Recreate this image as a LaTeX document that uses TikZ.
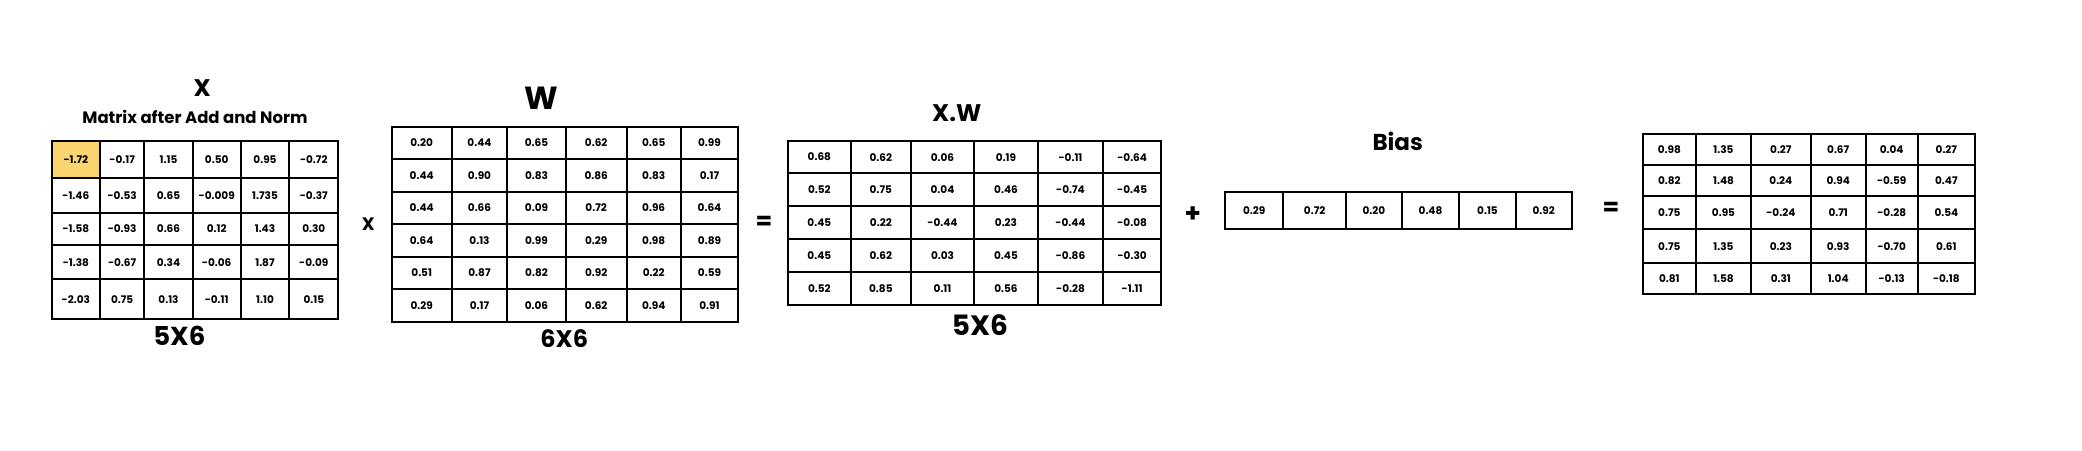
\documentclass[tikz,border=0pt]{standalone}
\usepackage{fontspec}
\setmainfont{Poppins}
\usetikzlibrary{backgrounds}
\definecolor{hl}{RGB}{250,212,110}
\tikzset{
  cell/.style={draw=black, line width=2.2pt, rectangle, inner sep=0pt, font=\fontsize{10.5}{12}\selectfont\bfseries},
  ttl/.style={font=\bfseries, inner sep=0pt},
  op/.style={font=\fontsize{18}{20}\selectfont\bfseries, inner sep=0pt}
}
\newcommand\cellgrid[4]{%
  \foreach \rowvals [count=\r] in {#4} {
    \foreach \v [count=\c] in \rowvals {
      \pgfmathsetmacro\xa{#2[\c-1]}
      \pgfmathsetmacro\xb{#2[\c]}
      \pgfmathsetmacro\ya{#3[\r-1]}
      \pgfmathsetmacro\yb{#3[\r]}
      \pgfmathsetmacro\ww{\xb-\xa}
      \pgfmathsetmacro\hh{\yb-\ya}
      \pgfmathsetmacro\cx{(\xa+\xb)/2}
      \pgfmathsetmacro\cy{(\ya+\yb)/2}
      \node[cell, minimum width=\ww pt, minimum height=\hh pt] (#1-\r-\c) at (\cx,\cy) {\v};
    }
  }%
}
\begin{document}
\begin{tikzpicture}[x=1pt,y=-1pt]
\useasboundingbox (0,0) rectangle (2082,450);

% X matrix
\cellgrid{x}{{51.7,100,144.3,192.7,240.7,289.3,338.3}}{{140.7,178.3,212.7,245.3,279.3,319.3}}{
{-1.72,-0.17,1.15,0.50,0.95,-0.72},
{-1.46,-0.53,0.65,-0.009,1.735,-0.37},
{-1.58,-0.93,0.66,0.12,1.43,0.30},
{-1.38,-0.67,0.34,-0.06,1.87,-0.09},
{-2.03,0.75,0.13,-0.11,1.10,0.15}}
\begin{scope}[on background layer]
\fill[white] (0,0) rectangle (2082,450);
\fill[hl] (x-1-1.north west) rectangle (x-1-1.south east);
\end{scope}
\node[ttl, font=\fontsize{24}{26}\selectfont\bfseries] (xt) at (202.3,88.3) {X};
\node[ttl, font=\fontsize{16.5}{18}\selectfont\bfseries] (xsub) at (195,117.3) {Matrix after Add and Norm};
\node[ttl, font=\fontsize{26}{28}\selectfont\bfseries] (xdim) at (179.3,336) {5X6};
\node[op] (times) at (368.3,224) {X};

% W matrix
\cellgrid{w}{{391.7,451.7,507.3,565.7,626.7,680.7,738.3}}{{126.7,159.3,191.7,224.3,256.7,289.3,321.7}}{
{0.20,0.44,0.65,0.62,0.65,0.99},
{0.44,0.90,0.83,0.86,0.83,0.17},
{0.44,0.66,0.09,0.72,0.96,0.64},
{0.64,0.13,0.99,0.29,0.98,0.89},
{0.51,0.87,0.82,0.92,0.22,0.59},
{0.29,0.17,0.06,0.62,0.94,0.91}}
\node[ttl, font=\fontsize{32}{34}\selectfont\bfseries] (wt) at (541.7,98.3) {W};
\node[ttl, font=\fontsize{24}{26}\selectfont\bfseries] (wdim) at (564.3,338.3) {6X6};
\node[op, font=\fontsize{24}{26}\selectfont\bfseries] (eq1) at (764,223.3) {=};

% XW matrix
\cellgrid{p}{{787.7,851,910.7,974.3,1037.7,1103.3,1161}}{{141,173.3,206,239,272,305}}{
{0.68,0.62,0.06,0.19,-0.11,-0.64},
{0.52,0.75,0.04,0.46,-0.74,-0.45},
{0.45,0.22,-0.44,0.23,-0.44,-0.08},
{0.45,0.62,0.03,0.45,-0.86,-0.30},
{0.52,0.85,0.11,0.56,-0.28,-1.11}}
\node[ttl, font=\fontsize{24}{26}\selectfont\bfseries] (pt) at (956.7,113.3) {X.W};
\node[ttl, font=\fontsize{28}{30}\selectfont\bfseries] (pdim) at (980,325) {5X6};
\node[op, font=\fontsize{26}{28}\selectfont\bfseries] (plus) at (1192.7,215) {+};

% Bias
\cellgrid{b}{{1225,1283.3,1346,1401.7,1459.3,1515.7,1571.7}}{{191.7,229}}{
{0.29,0.72,0.20,0.48,0.15,0.92}}
\node[ttl, font=\fontsize{23}{25}\selectfont\bfseries] (bt) at (1397.7,141.7) {Bias};
\node[op, font=\fontsize{24}{26}\selectfont\bfseries] (eq2) at (1611,209) {=};

% Result
\cellgrid{r}{{1642.7,1696,1751,1810.7,1865.7,1917.7,1975}}{{134.3,165,196,229.3,263.3,294}}{
{0.98,1.35,0.27,0.67,0.04,0.27},
{0.82,1.48,0.24,0.94,-0.59,0.47},
{0.75,0.95,-0.24,0.71,-0.28,0.54},
{0.75,1.35,0.23,0.93,-0.70,0.61},
{0.81,1.58,0.31,1.04,-0.13,-0.18}}
\end{tikzpicture}
\end{document}
